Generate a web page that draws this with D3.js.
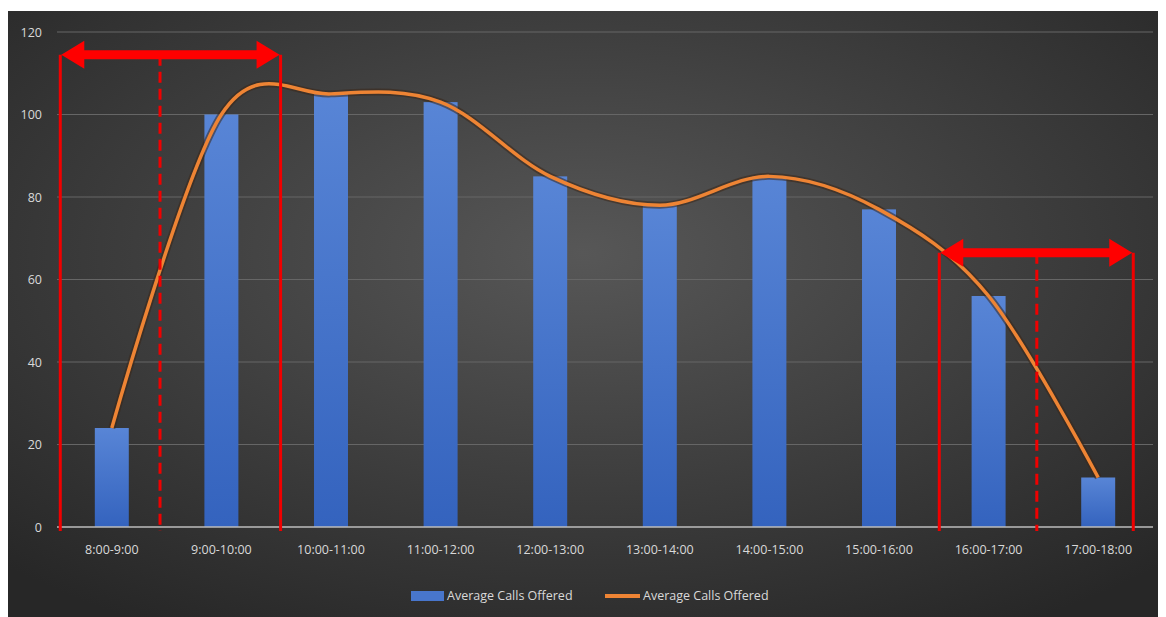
<!DOCTYPE html>
<html>
<head>
<meta charset="utf-8">
<script src="https://cdn.jsdelivr.net/npm/d3@7"></script>
<style>
  body { margin: 0; background: #fff; }
  text { font-family: "Open Sans", sans-serif; }
</style>
</head>
<body>
<div id="chart"></div>
<script>
// data
var categories = ["8:00-9:00", "9:00-10:00", "10:00-11:00", "11:00-12:00", "12:00-13:00",
                  "13:00-14:00", "14:00-15:00", "15:00-16:00", "16:00-17:00", "17:00-18:00"];
var calls = [24, 100, 105, 103, 85, 78, 85, 77, 56, 12];
var yTicks = [0, 20, 40, 60, 80, 100, 120];
var seriesName = "Average Calls Offered";

// red bracket annotations, in category units (x) and value units (y)
var brackets = [
    { left: 0.03, mid: 0.94, right: 2.04, level: 114.5 },
    { left: 8.05, mid: 8.94, right: 9.82, level: 66.5 }
];

var svgWidth = 1166;
var svgHeight = 617;
var plot = { left: 57, right: 1153, top: 32, bottom: 527 };

var svg = d3.select("#chart")
    .append("svg")
    .attr("width", svgWidth)
    .attr("height", svgHeight);

var defs = svg.append("defs");

var bg = defs.append("radialGradient")
    .attr("id", "bg")
    .attr("cx", "50%").attr("cy", "40%").attr("r", "72%");
bg.append("stop").attr("offset", "0%").attr("stop-color", "#575757");
bg.append("stop").attr("offset", "100%").attr("stop-color", "#272727");

var barGrad = defs.append("linearGradient")
    .attr("id", "barGrad")
    .attr("x1", 0).attr("y1", 0).attr("x2", 0).attr("y2", 1);
barGrad.append("stop").attr("offset", "0%").attr("stop-color", "#5885d6");
barGrad.append("stop").attr("offset", "100%").attr("stop-color", "#3463be");

// chart area background
svg.append("rect")
    .attr("x", 8).attr("y", 11)
    .attr("width", 1150).attr("height", 606)
    .attr("fill", "url(#bg)");

// scales
var x = d3.scaleBand()
    .domain(categories)
    .range([plot.left, plot.right])
    .paddingInner(0.69)
    .paddingOuter(0.345);

var xIndex = d3.scaleLinear()
    .domain([0, categories.length])
    .range([plot.left, plot.right]);

var y = d3.scaleLinear()
    .domain([0, 120])
    .range([plot.bottom, plot.top]);

// gridlines
svg.append("g")
    .selectAll("line")
    .data(yTicks.filter(function(d) { return d > 0; }))
    .enter()
    .append("line")
    .attr("x1", plot.left).attr("x2", plot.right)
    .attr("y1", function(d) { return y(d); })
    .attr("y2", function(d) { return y(d); })
    .attr("stroke", "#666666")
    .attr("stroke-width", 1);

// y axis labels
var leftAxis = d3.axisLeft(y).tickValues(yTicks).tickSize(0).tickPadding(0);
var yAxisG = svg.append("g")
    .attr("transform", "translate(42,0)")
    .call(leftAxis);
yAxisG.select(".domain").remove();
yAxisG.selectAll("text")
    .attr("fill", "#d9d9d9")
    .style("font-size", "12.5px")
    .style("font-family", "Open Sans, sans-serif");

// bars
svg.append("g")
    .selectAll("rect")
    .data(calls)
    .enter()
    .append("rect")
    .attr("x", function(d, i) { return x(categories[i]); })
    .attr("width", x.bandwidth())
    .attr("y", function(d) { return y(d); })
    .attr("height", function(d) { return y(0) - y(d); })
    .attr("fill", "url(#barGrad)");

// zero axis line
svg.append("line")
    .attr("x1", plot.left).attr("x2", plot.right)
    .attr("y1", y(0)).attr("y2", y(0))
    .attr("stroke", "#bdbdbd")
    .attr("stroke-width", 1.5);

// x axis labels
var bottomAxis = d3.axisBottom(x).tickSize(0).tickPadding(0);
var xAxisG = svg.append("g")
    .attr("transform", "translate(0," + (y(0) + 18) + ")")
    .call(bottomAxis);
xAxisG.select(".domain").remove();
xAxisG.selectAll("text")
    .attr("fill", "#d9d9d9")
    .style("font-size", "12.5px")
    .style("font-family", "Open Sans, sans-serif");

// smoothed line
var line = d3.line()
    .x(function(d, i) { return x(categories[i]) + x.bandwidth() / 2; })
    .y(function(d) { return y(d); })
    .curve(d3.curveCardinal.tension(0));

svg.append("path")
    .datum(calls)
    .attr("d", line)
    .attr("fill", "none")
    .attr("stroke", "#3a2618")
    .attr("stroke-opacity", 0.55)
    .attr("stroke-width", 7);

svg.append("path")
    .datum(calls)
    .attr("d", line)
    .attr("fill", "none")
    .attr("stroke", "#ee8434")
    .attr("stroke-width", 3.5);

// red brackets with double arrows
function arrowPath(x1, x2, yc) {
    var shaft = 4.5, head = 23, half = 14;
    return "M" + x1 + "," + yc +
        "L" + (x1 + head) + "," + (yc - half) +
        "L" + (x1 + head) + "," + (yc - shaft) +
        "L" + (x2 - head) + "," + (yc - shaft) +
        "L" + (x2 - head) + "," + (yc - half) +
        "L" + x2 + "," + yc +
        "L" + (x2 - head) + "," + (yc + half) +
        "L" + (x2 - head) + "," + (yc + shaft) +
        "L" + (x1 + head) + "," + (yc + shaft) +
        "L" + (x1 + head) + "," + (yc + half) + "Z";
}

var annot = svg.append("g");
brackets.forEach(function(b) {
    var top = y(b.level);
    [b.left, b.right].forEach(function(v) {
        annot.append("line")
            .attr("x1", xIndex(v)).attr("x2", xIndex(v))
            .attr("y1", top).attr("y2", y(0) + 4)
            .attr("stroke", "#f00000")
            .attr("stroke-width", 3);
    });
    annot.append("line")
        .attr("x1", xIndex(b.mid)).attr("x2", xIndex(b.mid))
        .attr("y1", top).attr("y2", y(0) + 4)
        .attr("stroke", "#f00000")
        .attr("stroke-width", 3)
        .attr("stroke-dasharray", "11,6");
    annot.append("path")
        .attr("d", arrowPath(xIndex(b.left) + 1, xIndex(b.right) - 1, top))
        .attr("fill", "#ff0000");
});

// legend
var legend = svg.append("g");
legend.append("rect")
    .attr("x", 411).attr("y", 591)
    .attr("width", 33).attr("height", 10)
    .attr("fill", "#4876cc");
legend.append("text")
    .attr("x", 447).attr("y", 600)
    .attr("fill", "#d9d9d9")
    .style("font-size", "12.5px")
    .text(seriesName);
legend.append("line")
    .attr("x1", 605).attr("x2", 640)
    .attr("y1", 596).attr("y2", 596)
    .attr("stroke", "#ee8434")
    .attr("stroke-width", 4);
legend.append("text")
    .attr("x", 643).attr("y", 600)
    .attr("fill", "#d9d9d9")
    .style("font-size", "12.5px")
    .text(seriesName);
</script>
</body>
</html>
